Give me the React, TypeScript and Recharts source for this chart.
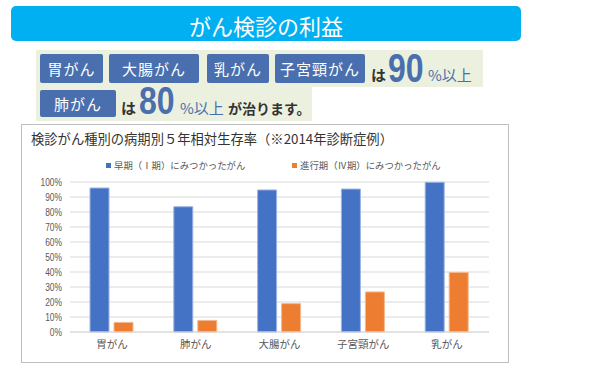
import React from 'react';
import { BarChart, Bar, XAxis, YAxis, CartesianGrid } from 'recharts';

const categories = ['胃がん', '肺がん', '大腸がん', '子宮頸がん', '乳がん'];
const earlyStage = [96.0, 83.5, 94.7, 95.3, 99.8];
const advancedStage = [6.4, 7.7, 18.9, 26.7, 39.7];
const yTicks = [0, 10, 20, 30, 40, 50, 60, 70, 80, 90, 100];
const seriesNames = ['早期（Ⅰ期）にみつかったがん', '進行期（Ⅳ期）にみつかったがん'];
const seriesColors = ['#4472c4', '#ed7d31'];
const row1Chips = ['胃がん', '大腸がん', '乳がん', '子宮頸がん'];
const row2Chips = ['肺がん'];

const data = categories.map((c, i) => ({ name: c, early: earlyStage[i], advanced: advancedStage[i] }));

const JP = '"Noto Sans CJK JP", "Noto Sans", sans-serif';
const LAT = '"Liberation Sans", Arial, sans-serif';
const CHIP = '#4a6fae';

const row1ChipPos = [
  { x: 40, w: 63 },
  { x: 109, w: 90 },
  { x: 207, w: 62 },
  { x: 275, w: 90 },
];
const row2ChipPos = [{ x: 40, w: 76 }];

function Chip({ text, x, y, w, h }: { text: string; x: number; y: number; w: number; h: number }) {
  return (
    <div
      style={{
        position: 'absolute', left: x, top: y, width: w, height: h, background: CHIP,
        borderRadius: 2, color: '#fff', fontFamily: JP, fontSize: 15, display: 'flex',
        alignItems: 'center', justifyContent: 'center', letterSpacing: 1,
      }}
    >
      {text}
    </div>
  );
}

function Span({ x, top, size, color, bold, family, scaleX, children }: any) {
  return (
    <span
      style={{
        position: 'absolute', left: x, top, fontSize: size, lineHeight: `${size}px`, color,
        fontWeight: bold ? 'bold' : 'normal', fontFamily: family || JP, whiteSpace: 'nowrap',
        transform: scaleX ? `scaleX(${scaleX})` : undefined, transformOrigin: 'left top',
      }}
    >
      {children}
    </span>
  );
}

const YTick = (props: any) => {
  const { x, y, payload } = props;
  return (
    <text
      x={0}
      y={0}
      transform={`translate(${x},${y}) scale(0.8,1)`}
      textAnchor="end"
      dominantBaseline="central"
      fontFamily={LAT}
      fontSize={10.5}
      fill="#595959"
    >
      {`${payload.value}%`}
    </text>
  );
};

export default function App() {
  return (
    <div style={{ position: 'absolute', left: 0, top: 0, width: 600, height: 370, background: '#fff', overflow: 'hidden' }}>
      {/* header */}
      <div
        style={{
          position: 'absolute', left: 11, top: 6, width: 510, height: 35, background: '#00b0f0',
          borderRadius: 5, color: '#fff', fontFamily: JP, fontSize: 22, display: 'flex',
          alignItems: 'center', justifyContent: 'center', paddingTop: 2, boxSizing: 'border-box',
        }}
      >
        がん検診の利益
      </div>
      {/* green box */}
      <div style={{ position: 'absolute', left: 36, top: 50, width: 447, height: 37, background: '#ebf1de' }} />
      <div style={{ position: 'absolute', left: 36, top: 87, width: 276, height: 34, background: '#ebf1de' }} />
      {row1Chips.map((c, i) => (
        <Chip key={c} text={c} x={row1ChipPos[i].x} y={54} w={row1ChipPos[i].w} h={29} />
      ))}
      {row2Chips.map((c, i) => (
        <Chip key={c} text={c} x={row2ChipPos[i].x} y={90} w={row2ChipPos[i].w} h={27} />
      ))}
      <Span x={371} top={67} size={15} color="#333" bold>は</Span>
      <Span x={388} top={48} size={40} color={CHIP} bold family={LAT} scaleX={0.8}>90</Span>
      <Span x={428} top={67} size={15} color={CHIP}>%以上</Span>

      <Span x={121} top={100} size={15} color="#333" bold>は</Span>
      <Span x={139} top={81} size={39} color={CHIP} bold family={LAT} scaleX={0.82}>80</Span>
      <Span x={180} top={100} size={15} color={CHIP}>%以上</Span>
      <Span x={228} top={101} size={14} color="#333" bold>が治ります。</Span>

      {/* chart frame */}
      <div
        style={{
          position: 'absolute', left: 21, top: 124, width: 488, height: 239,
          border: '1.5px solid #bfbfbf', boxSizing: 'border-box', background: '#fff',
        }}
      />
      <div
        style={{
          position: 'absolute', left: 31, top: 130, fontFamily: JP, fontSize: 13.3, color: '#333',
          whiteSpace: 'nowrap', lineHeight: '18px',
        }}
      >
        検診がん種別の病期別５年相対生存率（※2014年診断症例）
      </div>
      {/* legend */}
      <div style={{ position: 'absolute', left: 0, top: 157, width: 600, height: 16, fontFamily: JP, fontSize: 9.4, color: '#595959' }}>
        {[{ x: 106, i: 0 }, { x: 292, i: 1 }].map(({ x, i }) => (
          <div key={i} style={{ position: 'absolute', left: x, top: 0, display: 'flex', alignItems: 'center', height: 16 }}>
            <span style={{ width: 5, height: 5, background: seriesColors[i], display: 'inline-block', marginRight: 3 }} />
            <span>{seriesNames[i]}</span>
          </div>
        ))}
      </div>

      <div style={{ position: 'absolute', left: 0, top: 0 }}>
        <BarChart
          width={600}
          height={370}
          data={data}
          margin={{ top: 182, right: 111, bottom: 8, left: 30 }}
          barSize={19}
          barGap={5}
        >
          <CartesianGrid vertical={false} stroke="#d9d9d9" />
          <XAxis
            dataKey="name"
            height={30}
            axisLine={{ stroke: '#d9d9d9' }}
            tickLine={false}
            tickMargin={3}
            tick={{ fontFamily: JP, fontSize: 10.5, fill: '#595959' }}
          />
          <YAxis
            domain={[0, 100]}
            ticks={yTicks}
            width={40}
            axisLine={false}
            tickLine={false}
            interval={0}
            tick={<YTick />}
          />
          <Bar dataKey="early" name={seriesNames[0]} fill={seriesColors[0]} stroke="#9db5e3" strokeWidth={1} isAnimationActive={false} />
          <Bar dataKey="advanced" name={seriesNames[1]} fill={seriesColors[1]} stroke="#f5b88f" strokeWidth={1} isAnimationActive={false} />
        </BarChart>
      </div>
    </div>
  );
}
